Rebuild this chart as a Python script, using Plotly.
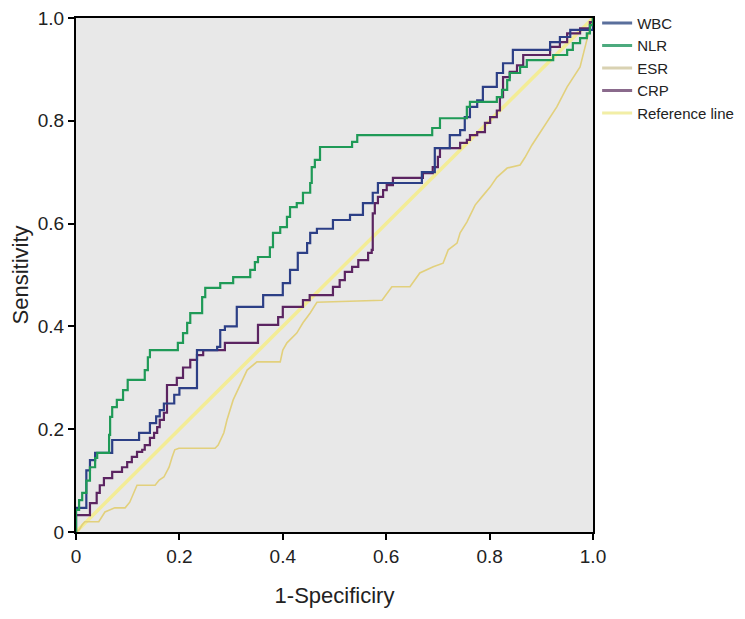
import plotly.graph_objects as go

# ---- data ----
series_names = ["WBC", "NLR", "ESR", "CRP", "Reference line"]

wbc_x = [0, 0, 0.02, 0.027, 0.037, 0.07, 0.122, 0.143, 0.155, 0.162, 0.17, 0.19, 0.2, 0.234, 0.273,
         0.279, 0.288, 0.311, 0.362, 0.40, 0.414, 0.429, 0.447, 0.453, 0.466, 0.497, 0.53, 0.555,
         0.574, 0.584, 0.669, 0.694, 0.723, 0.743, 0.752, 0.762, 0.776, 0.787, 0.814, 0.826, 0.845,
         0.917, 0.936, 0.956, 1.0]
wbc_y = [0, 0.047, 0.12, 0.14, 0.154, 0.179, 0.193, 0.212, 0.225, 0.237, 0.25, 0.267, 0.28, 0.354, 0.36,
         0.393, 0.40, 0.438, 0.461, 0.484, 0.51, 0.543, 0.562, 0.582, 0.59, 0.607, 0.617, 0.64,
         0.66, 0.679, 0.70, 0.747, 0.772, 0.782, 0.807, 0.827, 0.84, 0.866, 0.893, 0.912, 0.938,
         0.953, 0.963, 0.977, 1.0]

nlr_x = [0, 0, 0.006, 0.012, 0.02, 0.027, 0.037, 0.041, 0.064, 0.066, 0.07, 0.079, 0.091, 0.1,
         0.133, 0.139, 0.143, 0.197, 0.207, 0.215, 0.221, 0.244, 0.25, 0.279, 0.304, 0.337, 0.346,
         0.352, 0.375, 0.381, 0.395, 0.408, 0.414, 0.427, 0.439, 0.453, 0.456, 0.462, 0.472, 0.534,
         0.544, 0.689, 0.704, 0.756, 0.762, 0.814, 0.824, 0.834, 0.839, 0.859, 0.872, 0.923, 0.95,
         0.961, 0.975, 0.988, 0.994, 1.0]
nlr_y = [0, 0.043, 0.062, 0.076, 0.1, 0.126, 0.144, 0.154, 0.189, 0.224, 0.243, 0.257, 0.276, 0.296,
         0.315, 0.34, 0.354, 0.368, 0.387, 0.407, 0.426, 0.457, 0.475, 0.484, 0.496, 0.51, 0.525,
         0.535, 0.554, 0.582, 0.593, 0.613, 0.632, 0.64, 0.66, 0.679, 0.71, 0.724, 0.749, 0.759,
         0.772, 0.786, 0.805, 0.827, 0.837, 0.846, 0.86, 0.879, 0.893, 0.905, 0.918, 0.928, 0.938,
         0.951, 0.961, 0.97, 0.986, 1.0]

esr_x = [0, 0.006, 0.012, 0.017, 0.044, 0.05, 0.056, 0.075, 0.095, 0.104, 0.112, 0.118, 0.153, 0.161,
         0.17, 0.18, 0.186, 0.191, 0.199, 0.269, 0.275, 0.286, 0.292, 0.296, 0.304, 0.331, 0.35,
         0.395, 0.40, 0.408, 0.427, 0.439, 0.453, 0.466, 0.592, 0.611, 0.646, 0.665, 0.691, 0.71,
         0.72, 0.737, 0.743, 0.756, 0.772, 0.785, 0.801, 0.814, 0.834, 0.859, 0.868, 0.882, 0.897,
         0.911, 0.93, 0.95, 0.975, 0.988, 1.0]
esr_y = [0, 0.004, 0.014, 0.02, 0.02, 0.03, 0.039, 0.047, 0.047, 0.058, 0.076, 0.091, 0.091, 0.101,
         0.107, 0.126, 0.146, 0.16, 0.163, 0.163, 0.169, 0.193, 0.218, 0.232, 0.257, 0.315, 0.331,
         0.331, 0.354, 0.368, 0.387, 0.407, 0.426, 0.447, 0.451, 0.477, 0.477, 0.504, 0.516, 0.523,
         0.549, 0.562, 0.582, 0.603, 0.636, 0.652, 0.671, 0.69, 0.708, 0.714, 0.728, 0.753, 0.776,
         0.796, 0.827, 0.866, 0.905, 0.957, 1.0]

crp_x = [0, 0, 0.027, 0.04, 0.046, 0.054, 0.07, 0.089, 0.099, 0.108, 0.118, 0.128, 0.133, 0.143,
         0.151, 0.157, 0.162, 0.17, 0.176, 0.176, 0.195, 0.207, 0.221, 0.234, 0.246, 0.288, 0.352,
         0.391, 0.40, 0.439, 0.452, 0.497, 0.51, 0.52, 0.534, 0.546, 0.565, 0.572, 0.574, 0.578,
         0.584, 0.594, 0.601, 0.613, 0.671, 0.69, 0.70, 0.704, 0.743, 0.756, 0.762, 0.776, 0.791,
         0.801, 0.814, 0.82, 0.826, 0.839, 0.853, 0.865, 0.917, 0.936, 0.95, 0.975, 0.994, 1.0]
crp_y = [0, 0.033, 0.056, 0.076, 0.091, 0.105, 0.117, 0.126, 0.136, 0.146, 0.156, 0.16, 0.169, 0.183,
         0.193, 0.204, 0.218, 0.232, 0.247, 0.286, 0.30, 0.32, 0.335, 0.344, 0.354, 0.368, 0.403,
         0.418, 0.438, 0.451, 0.461, 0.477, 0.49, 0.506, 0.516, 0.529, 0.543, 0.549, 0.62, 0.64,
         0.652, 0.665, 0.675, 0.689, 0.698, 0.71, 0.73, 0.747, 0.757, 0.763, 0.772, 0.778, 0.796,
         0.807, 0.82, 0.846, 0.885, 0.895, 0.908, 0.928, 0.944, 0.953, 0.97, 0.98, 0.992, 1.0]

ref_x = [0, 1]
ref_y = [0, 1]

tick_vals = [0, 0.2, 0.4, 0.6, 0.8, 1.0]
tick_text = ["0", "0.2", "0.4", "0.6", "0.8", "1.0"]

colors = {"WBC": "#2c3f86", "NLR": "#1f9a57", "ESR": "#e2d07c", "CRP": "#5b2461",
          "Reference line": "#f3ec96"}

FONT = "Liberation Sans, Arial, sans-serif"

fig = go.Figure()
fig.add_trace(go.Scatter(x=ref_x, y=ref_y, mode="lines", name="Reference line",
                         line=dict(color=colors["Reference line"], width=3.5), showlegend=False))
fig.add_trace(go.Scatter(x=esr_x, y=esr_y, mode="lines", name="ESR",
                         line=dict(color=colors["ESR"], width=1.6), showlegend=False))
fig.add_trace(go.Scatter(x=crp_x, y=crp_y, mode="lines", name="CRP", line_shape="hv",
                         line=dict(color=colors["CRP"], width=2.2), showlegend=False))
fig.add_trace(go.Scatter(x=wbc_x, y=wbc_y, mode="lines", name="WBC", line_shape="hv",
                         line=dict(color=colors["WBC"], width=2.2), showlegend=False))
fig.add_trace(go.Scatter(x=nlr_x, y=nlr_y, mode="lines", name="NLR", line_shape="hv",
                         line=dict(color=colors["NLR"], width=2.2), showlegend=False))

# legend entries in the reference order
legend_colors = {"WBC": "#5a6f9c", "NLR": "#4caa7e", "ESR": "#d9d2b2", "CRP": "#8a6a8c",
                 "Reference line": "#f2eea6"}
for nm in series_names:
    fig.add_trace(go.Scatter(x=[None], y=[None], mode="lines", name=nm,
                             line=dict(color=legend_colors[nm], width=3), showlegend=True))

axis_common = dict(range=[0, 1], tickvals=tick_vals, ticktext=tick_text, showgrid=False,
                   zeroline=False, showline=True, linecolor="black", linewidth=2, mirror=True,
                   ticks="outside", ticklen=6, tickwidth=2, tickcolor="black", automargin=False,
                   ticklabeloverflow="allow",
                   tickfont=dict(size=19, color="#222", family=FONT))

fig.update_layout(
    width=745, height=619,
    margin=dict(l=68, r=160, t=10, b=95, autoexpand=False),
    paper_bgcolor="white", plot_bgcolor="#e8e8e8",
    font=dict(family=FONT, color="#222"),
    xaxis=dict(**axis_common, title=dict(text="1-Specificiry", font=dict(size=22, family=FONT), standoff=22)),
    yaxis=dict(**axis_common, title=dict(text="Sensitivity", font=dict(size=22, family=FONT), standoff=22)),
    legend=dict(x=1.008, y=1.022, xanchor="left", yanchor="top", font=dict(size=15, family=FONT, color="#222"),
                bgcolor="rgba(0,0,0,0)", itemwidth=30, tracegroupgap=0),
)

fig.write_html("out.html")
